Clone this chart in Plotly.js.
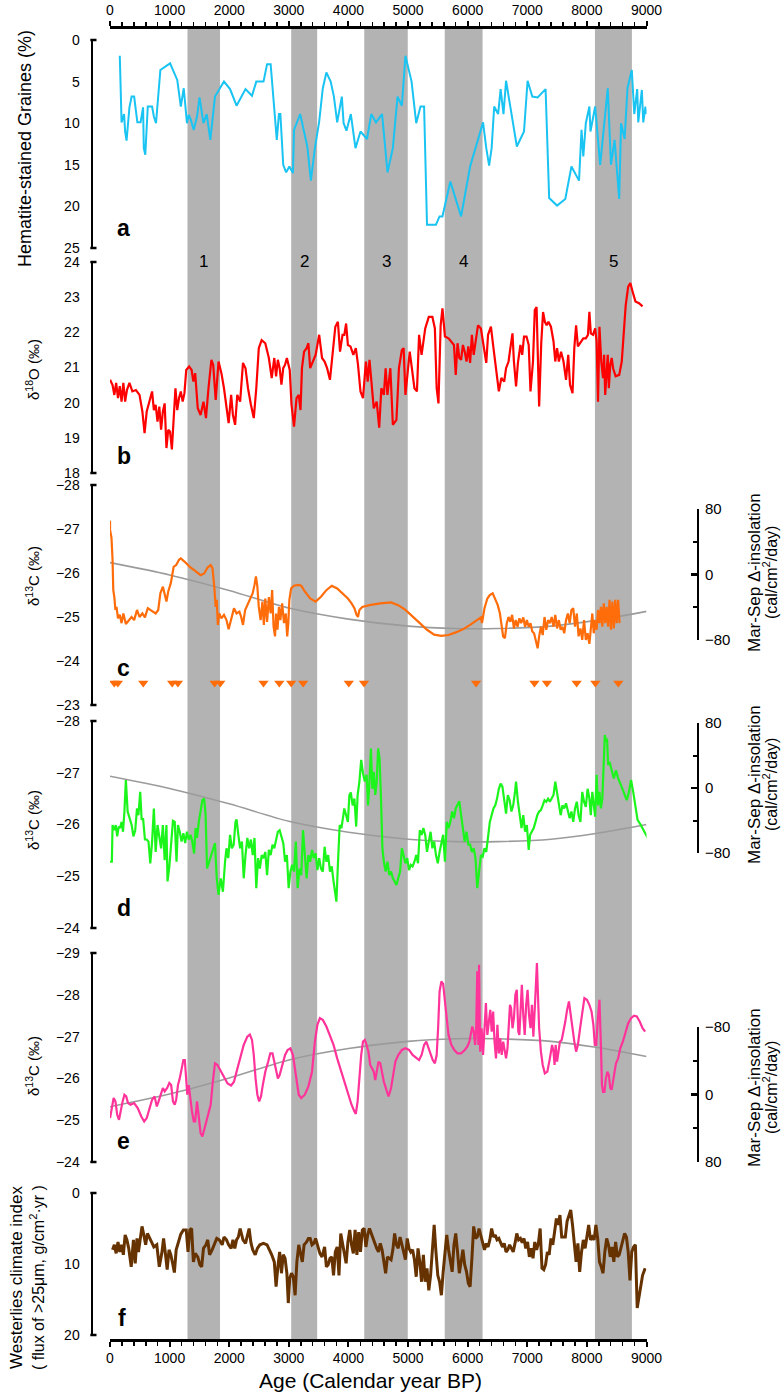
<!DOCTYPE html>
<html><head><meta charset="utf-8">
<script src="https://cdn.plot.ly/plotly-3.0.1.min.js"></script>
<style>html,body{margin:0;padding:0;background:#fff}#chart{width:781px;height:1393px}</style>
</head><body><div id="chart"></div>
<script>
// ---------------- DATA ----------------
const bandStart = [1300, 3040, 4265, 5615, 8135];
const bandEnd   = [1845, 3475, 4995, 6250, 8755];
const bandLabels = ['1','2','3','4','5'];

// a: Hematite-stained grains (%)  [age, value]
const hematite = [[164,1.9],[194,9.9],[236,8.9],[254,11.0],[278,12.1],[326,8.1],[363,6.8],[405,6.8],[459,9.9],[513,9.9],[555,8.1],[567,13.0],[592,13.8],[634,8.0],[706,8.0],[736,9.2],[772,10.0],[845,3.6],[1008,2.8],[1128,4.8],[1188,8.0],[1237,5.8],[1291,10.0],[1321,9.0],[1357,9.6],[1405,10.8],[1460,9.2],[1502,6.9],[1568,10.0],[1622,8.9],[1683,12.0],[1761,6.8],[1912,5.0],[2014,5.9],[2123,7.9],[2273,5.9],[2382,6.7],[2454,5.0],[2575,5.0],[2635,2.9],[2695,2.9],[2798,12.0],[2834,8.9],[2858,8.9],[2906,15.0],[2955,15.9],[3009,15.2],[3069,16.0],[3087,10.8],[3190,8.9],[3310,12.8],[3370,16.9],[3437,13.0],[3509,9.8],[3570,5.8],[3630,3.9],[3702,5.0],[3756,6.8],[3811,9.9],[3889,6.8],[3919,10.0],[3967,10.9],[4040,8.9],[4118,13.0],[4202,11.0],[4311,11.9],[4383,8.9],[4462,9.9],[4564,8.9],[4656,15.9],[4745,13.0],[4823,6.8],[4896,7.9],[4956,1.9],[5059,5.0],[5137,10.0],[5209,8.0],[5269,8.0],[5318,22.2],[5468,22.2],[5528,21.2],[5577,21.2],[5709,17.0],[5890,21.2],[6041,15.2],[6258,9.9],[6312,13.0],[6360,15.1],[6402,13.0],[6445,8.0],[6511,8.9],[6553,5.9],[6601,8.9],[6644,4.9],[6825,12.8],[6945,11.0],[7005,4.9],[7084,6.8],[7174,6.9],[7307,5.9],[7367,19.0],[7500,19.9],[7638,19.1],[7741,15.2],[7868,16.9],[7910,10.8],[7940,14.0],[7982,10.0],[8042,8.0],[8060,11.0],[8139,8.0],[8223,15.0],[8350,5.8],[8404,15.0],[8464,12.0],[8542,19.1],[8573,10.0],[8633,11.9],[8681,5.8],[8753,3.6],[8795,8.9],[8844,5.9],[8862,9.9],[8922,6.0],[8946,9.9],[8982,8.0],[9000,8.9]];

// b: d18O (permil)
const d18O = [[1,20.65],[43,20.5],[73,20.22],[103,20.56],[134,20.13],[164,20.47],[194,20.03],[224,20.56],[254,20.03],[284,20.36],[326,20.56],[375,20.32],[435,20.36],[495,20.22],[543,19.75],[580,19.13],[616,19.75],[676,20.13],[706,20.32],[736,19.79],[766,19.94],[797,19.46],[827,19.89],[857,19.23],[887,19.75],[917,19.98],[947,18.71],[977,19.23],[1007,19.18],[1038,18.67],[1068,19.75],[1098,20.41],[1128,19.79],[1158,20.13],[1188,20.32],[1219,20.03],[1249,20.27],[1279,20.93],[1327,21.03],[1369,20.93],[1399,20.6],[1429,20.84],[1472,19.84],[1520,19.65],[1568,20.03],[1610,19.56],[1652,20.41],[1701,21.22],[1731,21.08],[1773,20.08],[1821,21.17],[1869,20.84],[1912,20.41],[1954,19.84],[1990,19.42],[2032,20.22],[2062,19.65],[2099,19.37],[2135,20.22],[2183,20.03],[2231,21.13],[2273,20.98],[2315,20.41],[2364,19.94],[2412,19.56],[2454,20.41],[2496,21.55],[2544,21.78],[2605,21.69],[2665,21.27],[2713,20.7],[2756,21.27],[2786,20.75],[2816,21.22],[2846,20.98],[2876,20.51],[2906,20.98],[2937,21.08],[2967,21.27],[3015,20.93],[3045,19.94],[3087,19.32],[3129,20.13],[3166,20.22],[3196,19.79],[3220,20.98],[3256,21.45],[3298,21.55],[3328,21.69],[3358,20.98],[3400,21.17],[3449,21.36],[3509,21.93],[3557,21.27],[3600,21.17],[3642,20.98],[3690,20.65],[3738,21.45],[3780,22.16],[3823,22.3],[3859,21.45],[3901,21.93],[3931,21.93],[3961,22.25],[3991,21.64],[4034,21.6],[4082,21.36],[4124,21.55],[4160,21.08],[4202,20.32],[4244,20.13],[4293,21.17],[4323,20.6],[4353,21.22],[4395,20.41],[4425,19.84],[4474,20.03],[4516,19.29],[4552,20.41],[4594,20.22],[4624,20.98],[4654,20.22],[4703,20.98],[4745,19.37],[4805,19.51],[4847,20.98],[4896,21.5],[4926,21.55],[4956,20.22],[4998,21.08],[5028,21.45],[5064,20.98],[5107,20.41],[5149,20.32],[5185,21.93],[5227,21.36],[5288,22.11],[5348,22.44],[5408,22.44],[5450,22.11],[5480,20.41],[5510,19.98],[5547,22.2],[5577,22.68],[5619,21.88],[5679,21.83],[5740,21.69],[5770,21.64],[5800,20.79],[5830,21.69],[5860,21.27],[5890,21.22],[5920,21.64],[5950,21.45],[5981,21.17],[6011,21.6],[6041,21.13],[6071,21.93],[6101,21.36],[6131,21.78],[6173,22.2],[6222,22.11],[6270,21.55],[6312,21.13],[6342,21.93],[6390,22.16],[6433,21.55],[6493,20.79],[6523,20.32],[6565,20.7],[6613,20.6],[6644,20.98],[6686,21.17],[6716,21.55],[6752,21.97],[6776,21.17],[6812,20.46],[6843,21.13],[6885,21.64],[6915,21.36],[6945,21.88],[6987,21.88],[7024,21.64],[7054,20.32],[7096,21.17],[7126,22.63],[7156,22.72],[7174,21.55],[7199,19.89],[7234,21.69],[7265,22.58],[7295,22.3],[7325,22.2],[7355,22.3],[7397,22.16],[7440,21.74],[7470,21.17],[7500,21.55],[7530,21.17],[7566,21.45],[7608,21.17],[7650,20.65],[7687,21.36],[7717,20.51],[7759,20.27],[7789,21.55],[7819,22.2],[7849,21.6],[7898,21.74],[7940,21.83],[7982,21.83],[8018,21.93],[8042,22.58],[8066,21.97],[8103,21.93],[8139,22.11],[8163,21.74],[8187,20.03],[8211,22.16],[8241,21.17],[8271,20.7],[8289,21.36],[8307,20.22],[8332,20.79],[8350,21.36],[8368,20.41],[8392,21.08],[8416,21.27],[8440,20.98],[8482,20.75],[8542,20.79],[8585,21.17],[8621,22.02],[8651,22.77],[8693,23.3],[8729,23.4],[8765,23.17],[8814,22.88],[8874,22.83],[8934,22.74]];

// c: d13C (permil)
const d13C_c = [[0,-27.19],[1,-26.98],[25,-26.8],[43,-26.3],[55,-25.61],[73,-25.45],[91,-25.16],[109,-25.23],[134,-24.97],[164,-25.05],[194,-24.86],[224,-25.08],[266,-24.84],[314,-24.93],[362,-25.0],[405,-24.93],[453,-25.16],[495,-25.0],[543,-25.08],[586,-24.99],[634,-25.2],[676,-25.16],[724,-25.12],[766,-25.08],[809,-25.16],[845,-25.54],[887,-25.69],[917,-25.54],[947,-25.35],[977,-25.58],[1020,-25.77],[1068,-26.14],[1110,-26.18],[1158,-26.3],[1188,-26.33],[1249,-26.26],[1339,-26.14],[1429,-26.05],[1520,-25.95],[1580,-25.99],[1640,-26.13],[1689,-26.18],[1719,-26.11],[1749,-25.69],[1773,-25.23],[1791,-25.39],[1809,-24.82],[1833,-25.08],[1869,-24.97],[1912,-25.05],[1954,-24.93],[1990,-24.72],[2032,-24.97],[2080,-25.2],[2123,-25.08],[2171,-25.12],[2201,-25.0],[2231,-24.82],[2267,-25.16],[2303,-25.27],[2352,-25.42],[2394,-25.54],[2424,-25.73],[2448,-25.92],[2472,-25.69],[2496,-25.23],[2527,-24.93],[2557,-25.35],[2581,-24.82],[2605,-25.42],[2635,-24.89],[2665,-25.45],[2695,-25.08],[2720,-25.61],[2744,-24.78],[2768,-24.56],[2786,-25.08],[2810,-24.71],[2834,-25.23],[2858,-24.93],[2888,-25.31],[2919,-24.86],[2949,-25.08],[2973,-24.56],[2991,-24.86],[3009,-25.39],[3039,-25.65],[3087,-25.71],[3160,-25.73],[3208,-25.71],[3268,-25.58],[3358,-25.42],[3449,-25.35],[3539,-25.46],[3630,-25.61],[3720,-25.71],[3811,-25.65],[3901,-25.54],[3991,-25.42],[4052,-25.31],[4100,-25.2],[4136,-25.05],[4160,-25.0],[4184,-25.16],[4232,-25.23],[4353,-25.27],[4534,-25.31],[4715,-25.33],[4835,-25.27],[4956,-25.16],[5076,-25.0],[5197,-24.86],[5318,-24.71],[5438,-24.6],[5559,-24.57],[5679,-24.59],[5800,-24.65],[5920,-24.72],[6041,-24.82],[6162,-24.93],[6222,-24.99],[6240,-24.86],[6282,-25.2],[6330,-25.42],[6371,-25.5],[6420,-25.54],[6463,-25.42],[6505,-25.27],[6541,-25.08],[6571,-24.78],[6595,-24.56],[6625,-24.52],[6656,-24.86],[6686,-25.0],[6716,-24.89],[6746,-25.05],[6776,-24.74],[6806,-24.93],[6837,-24.78],[6867,-24.97],[6897,-24.86],[6933,-24.99],[6963,-24.78],[6993,-24.93],[7024,-24.78],[7054,-24.86],[7084,-24.67],[7114,-24.63],[7144,-24.48],[7174,-24.29],[7199,-24.56],[7229,-24.78],[7259,-24.59],[7289,-25.0],[7319,-24.71],[7349,-24.93],[7379,-24.86],[7410,-25.0],[7440,-24.78],[7470,-25.05],[7500,-24.74],[7530,-24.93],[7560,-24.71],[7590,-24.78],[7620,-24.63],[7650,-24.93],[7681,-25.08],[7711,-24.86],[7741,-25.16],[7771,-25.2],[7801,-24.78],[7831,-25.08],[7861,-24.56],[7892,-24.74],[7922,-24.48],[7952,-24.93],[7982,-24.48],[8012,-24.63],[8042,-24.39],[8066,-24.78],[8091,-25.08],[8115,-24.63],[8139,-24.93],[8163,-24.71],[8187,-25.16],[8211,-24.86],[8235,-25.23],[8259,-24.78],[8283,-25.31],[8307,-24.86],[8332,-25.23],[8356,-24.78],[8380,-25.39],[8404,-24.71],[8428,-25.35],[8452,-24.74],[8476,-25.39],[8500,-24.86],[8524,-25.39],[8548,-24.86]];

// c: dating points (triangles)
const datingAge = [72,132,558,1043,1139,1755,1850,2575,2840,3040,3240,4006,4262,6141,7120,7330,7828,8143,8527];
const datingLevel = [-23.5,-23.5,-23.5,-23.5,-23.5,-23.5,-23.5,-23.5,-23.5,-23.5,-23.5,-23.5,-23.5,-23.5,-23.5,-23.5,-23.5,-23.5,-23.5];

// d: d13C (permil)
const d13C_d = [[1,-25.28],[31,-25.28],[43,-25.99],[73,-25.89],[97,-25.99],[121,-25.77],[146,-25.96],[170,-25.93],[194,-26.05],[218,-25.86],[242,-26.25],[266,-26.86],[296,-26.25],[326,-26.12],[363,-25.99],[393,-25.77],[423,-25.89],[453,-26.31],[477,-26.18],[507,-26.63],[531,-26.09],[555,-26.12],[586,-25.71],[616,-25.71],[646,-25.67],[676,-25.25],[706,-25.67],[736,-26.31],[766,-25.47],[797,-25.99],[827,-25.8],[857,-25.54],[887,-25.99],[917,-25.31],[947,-25.99],[965,-24.9],[996,-25.19],[1026,-25.67],[1056,-26.07],[1086,-26.05],[1116,-25.28],[1140,-25.99],[1170,-25.86],[1200,-25.67],[1231,-25.83],[1261,-25.64],[1291,-25.86],[1321,-25.71],[1351,-25.8],[1381,-25.67],[1411,-25.44],[1436,-25.93],[1460,-25.74],[1490,-26.05],[1520,-26.25],[1550,-26.47],[1580,-26.5],[1604,-26.18],[1628,-25.15],[1665,-25.28],[1701,-25.41],[1737,-25.54],[1761,-25.64],[1791,-24.96],[1821,-24.64],[1858,-24.96],[1894,-24.7],[1930,-25.28],[1954,-25.54],[1984,-25.35],[2014,-25.8],[2044,-25.54],[2075,-25.61],[2105,-26.05],[2123,-26.1],[2153,-25.8],[2183,-25.54],[2213,-25.67],[2243,-24.96],[2273,-25.41],[2304,-25.74],[2334,-25.54],[2364,-25.71],[2394,-25.41],[2424,-25.74],[2454,-24.77],[2484,-25.35],[2514,-25.15],[2545,-25.41],[2575,-25.35],[2605,-25.47],[2635,-25.02],[2665,-25.51],[2695,-25.41],[2726,-25.61],[2756,-25.54],[2786,-25.71],[2816,-25.86],[2846,-25.89],[2876,-25.74],[2907,-25.64],[2937,-25.28],[2967,-25.41],[2997,-24.77],[3027,-25.09],[3057,-25.22],[3087,-25.09],[3117,-25.67],[3148,-24.77],[3178,-25.15],[3208,-25.02],[3238,-25.89],[3268,-25.41],[3298,-24.96],[3328,-25.41],[3358,-25.28],[3389,-25.51],[3419,-25.35],[3449,-25.44],[3479,-25.12],[3509,-25.35],[3539,-25.15],[3570,-25.09],[3600,-25.57],[3630,-25.28],[3660,-25.41],[3690,-25.09],[3720,-25.19],[3750,-24.9],[3780,-24.64],[3798,-24.51],[3823,-25.22],[3853,-25.99],[3883,-25.93],[3907,-26.18],[3931,-26.31],[3961,-26.18],[3991,-26.05],[4016,-26.57],[4040,-26.62],[4070,-26.37],[4100,-26.5],[4130,-25.96],[4154,-26.57],[4184,-26.83],[4214,-27.25],[4244,-26.99],[4275,-26.83],[4305,-26.96],[4329,-26.37],[4353,-26.83],[4377,-27.47],[4401,-26.69],[4425,-27.02],[4450,-26.57],[4474,-26.83],[4498,-27.47],[4522,-27.28],[4546,-26.5],[4570,-25.54],[4594,-25.28],[4624,-25.09],[4655,-25.28],[4685,-25.02],[4715,-25.09],[4745,-24.96],[4775,-24.9],[4805,-24.83],[4835,-24.96],[4866,-25.09],[4896,-25.54],[4926,-25.41],[4956,-25.25],[4986,-25.35],[5016,-25.12],[5046,-25.22],[5076,-25.19],[5107,-25.28],[5137,-25.41],[5167,-25.25],[5197,-25.89],[5227,-25.8],[5257,-25.93],[5288,-25.8],[5318,-25.47],[5348,-25.67],[5378,-25.86],[5408,-25.54],[5438,-25.67],[5468,-25.41],[5499,-25.25],[5529,-25.47],[5559,-25.67],[5589,-25.8],[5619,-25.28],[5649,-26.05],[5679,-25.93],[5709,-26.05],[5740,-26.25],[5770,-26.12],[5800,-26.31],[5830,-26.37],[5860,-26.45],[5890,-26.18],[5920,-25.93],[5950,-25.67],[5981,-25.86],[6011,-25.61],[6041,-25.61],[6071,-25.47],[6101,-25.54],[6131,-25.35],[6161,-24.77],[6191,-25.15],[6222,-25.41],[6252,-25.38],[6282,-25.54],[6312,-25.47],[6342,-25.74],[6372,-26.05],[6402,-26.18],[6433,-26.31],[6463,-26.37],[6493,-26.5],[6523,-26.69],[6553,-26.79],[6583,-26.73],[6613,-26.44],[6644,-26.21],[6674,-26.57],[6704,-26.47],[6734,-26.25],[6764,-26.37],[6794,-26.63],[6812,-26.83],[6843,-26.44],[6873,-26.18],[6903,-25.93],[6933,-26.18],[6963,-25.86],[6993,-25.99],[7024,-25.51],[7048,-25.8],[7078,-25.86],[7108,-25.93],[7138,-26.05],[7168,-26.18],[7198,-26.25],[7229,-26.28],[7259,-26.37],[7289,-26.47],[7319,-26.44],[7349,-26.5],[7379,-26.44],[7409,-26.5],[7440,-26.57],[7470,-26.83],[7500,-26.63],[7530,-26.37],[7560,-26.18],[7590,-26.37],[7620,-26.31],[7650,-26.41],[7681,-26.25],[7711,-26.12],[7741,-26.25],[7771,-26.05],[7801,-26.31],[7831,-26.44],[7861,-26.18],[7892,-26.05],[7922,-26.63],[7952,-26.44],[7982,-26.34],[8012,-26.69],[8042,-26.5],[8066,-26.18],[8091,-26.63],[8115,-26.44],[8139,-26.15],[8163,-26.96],[8187,-26.37],[8211,-26.63],[8235,-26.31],[8259,-26.5],[8283,-27.34],[8301,-27.73],[8320,-27.6],[8338,-27.66],[8356,-27.15],[8380,-27.21],[8416,-27.05],[8452,-26.89],[8488,-27.05],[8524,-26.89],[8572,-26.76],[8621,-26.63],[8669,-26.47],[8705,-26.63],[8741,-26.86],[8777,-26.63],[8814,-26.31],[8850,-26.09],[8904,-25.99],[8964,-25.86],[9025,-25.73],[9085,-25.72]];

// e: d13C (permil)
const d13C_e = [[1,-25.05],[31,-25.29],[61,-25.53],[91,-25.45],[121,-25.13],[151,-25.01],[182,-25.29],[212,-25.45],[242,-25.61],[272,-25.57],[302,-25.41],[345,-25.37],[405,-25.41],[465,-25.29],[525,-25.09],[574,-24.97],[616,-25.05],[664,-25.29],[706,-25.49],[748,-25.57],[785,-25.33],[815,-25.45],[857,-25.65],[887,-25.77],[917,-25.69],[959,-25.77],[995,-25.89],[1026,-25.84],[1056,-25.45],[1086,-25.37],[1110,-25.49],[1140,-25.84],[1170,-26.0],[1200,-26.24],[1231,-26.44],[1255,-26.44],[1279,-25.84],[1297,-25.61],[1321,-25.84],[1345,-25.53],[1375,-25.21],[1405,-24.97],[1429,-24.97],[1460,-25.45],[1490,-25.13],[1520,-24.69],[1550,-24.61],[1592,-24.85],[1640,-25.13],[1689,-25.37],[1725,-25.92],[1761,-26.36],[1803,-26.32],[1851,-26.2],[1912,-26.04],[1972,-25.88],[2032,-25.83],[2080,-25.92],[2123,-26.16],[2183,-26.48],[2243,-26.8],[2304,-27.0],[2346,-27.05],[2382,-26.92],[2412,-26.56],[2442,-26.0],[2472,-25.61],[2502,-25.45],[2533,-25.57],[2563,-25.84],[2605,-26.16],[2653,-26.4],[2689,-26.6],[2726,-26.6],[2756,-26.4],[2786,-26.12],[2816,-26.0],[2846,-26.08],[2894,-26.32],[2937,-26.56],[2979,-26.68],[3027,-26.72],[3069,-26.56],[3105,-26.16],[3135,-25.84],[3166,-25.61],[3208,-25.53],[3268,-25.61],[3328,-25.81],[3389,-26.16],[3437,-26.88],[3479,-27.28],[3521,-27.44],[3570,-27.4],[3630,-27.24],[3690,-27.04],[3750,-26.8],[3811,-26.48],[3871,-26.2],[3931,-25.92],[3991,-25.65],[4052,-25.37],[4100,-25.21],[4124,-25.15],[4154,-25.45],[4184,-26.08],[4214,-26.56],[4244,-26.88],[4275,-26.92],[4305,-26.8],[4335,-26.64],[4365,-26.32],[4395,-26.24],[4425,-26.16],[4450,-25.96],[4474,-26.16],[4504,-26.4],[4534,-26.36],[4564,-26.16],[4594,-25.92],[4636,-25.73],[4673,-25.57],[4715,-25.77],[4745,-26.08],[4787,-26.4],[4835,-26.56],[4896,-26.68],[4956,-26.72],[5016,-26.68],[5076,-26.56],[5137,-26.48],[5185,-26.44],[5227,-26.56],[5269,-26.8],[5306,-26.88],[5342,-26.72],[5378,-26.56],[5414,-26.44],[5450,-26.36],[5480,-26.56],[5504,-27.2],[5529,-28.08],[5559,-28.32],[5589,-28.26],[5619,-27.84],[5649,-27.36],[5679,-27.04],[5728,-26.8],[5776,-26.68],[5830,-26.6],[5890,-26.6],[5951,-26.68],[5993,-26.76],[6029,-26.88],[6053,-27.04],[6077,-27.24],[6101,-27.12],[6125,-26.8],[6143,-27.2],[6161,-28.56],[6179,-26.8],[6191,-28.72],[6210,-26.64],[6234,-27.2],[6258,-26.56],[6282,-27.28],[6306,-27.8],[6330,-27.04],[6354,-27.4],[6379,-27.64],[6403,-27.12],[6427,-27.6],[6451,-26.88],[6475,-26.48],[6499,-27.28],[6523,-26.6],[6547,-26.96],[6571,-26.56],[6596,-26.88],[6620,-26.72],[6644,-26.48],[6668,-26.72],[6692,-27.2],[6710,-27.76],[6728,-27.68],[6752,-27.2],[6776,-27.44],[6800,-28.0],[6824,-28.12],[6849,-27.12],[6867,-27.04],[6885,-27.76],[6909,-28.24],[6933,-27.52],[6957,-27.04],[6981,-27.76],[7005,-28.12],[7029,-27.52],[7054,-27.2],[7078,-27.76],[7102,-27.0],[7126,-27.68],[7144,-28.4],[7162,-28.76],[7181,-27.92],[7199,-27.2],[7229,-26.64],[7259,-26.32],[7295,-26.12],[7337,-26.16],[7379,-26.48],[7416,-26.8],[7440,-26.64],[7458,-26.32],[7476,-26.8],[7500,-26.4],[7524,-26.64],[7548,-26.88],[7578,-26.92],[7608,-27.12],[7638,-27.36],[7668,-27.64],[7699,-27.84],[7729,-27.52],[7759,-27.12],[7789,-26.88],[7819,-26.64],[7849,-26.8],[7886,-27.2],[7922,-27.6],[7958,-27.92],[8000,-27.88],[8042,-27.76],[8078,-27.6],[8109,-27.28],[8133,-26.8],[8157,-26.8],[8181,-27.36],[8211,-27.88],[8235,-26.8],[8253,-25.84],[8271,-25.68],[8295,-25.68],[8319,-26.0],[8344,-26.16],[8368,-26.08],[8392,-25.77],[8416,-25.73],[8440,-25.92],[8464,-26.16],[8488,-26.36],[8524,-26.48],[8560,-26.72],[8603,-26.88],[8645,-27.12],[8693,-27.32],[8741,-27.44],[8790,-27.5],[8838,-27.48],[8886,-27.36],[8934,-27.2],[8977,-27.12]];

// f: Westerlies climate index (flux of >25um)
const westerlies = [[43,8.0],[73,7.3],[103,8.5],[134,6.9],[164,8.3],[194,7.3],[224,8.7],[254,5.9],[284,6.6],[314,7.8],[356,10.4],[393,6.6],[423,9.9],[453,6.4],[477,8.3],[507,6.2],[537,4.7],[567,5.9],[598,7.3],[628,5.7],[664,6.4],[706,7.1],[736,7.6],[785,7.3],[827,10.4],[869,8.5],[899,6.4],[929,8.5],[959,10.8],[990,8.0],[1020,8.7],[1050,9.9],[1080,11.2],[1110,8.0],[1146,7.1],[1188,5.8],[1231,5.2],[1279,5.2],[1309,8.3],[1339,5.2],[1369,5.0],[1399,9.7],[1429,8.5],[1472,9.0],[1508,10.1],[1538,10.4],[1568,7.8],[1610,7.3],[1640,6.6],[1671,8.7],[1713,8.0],[1749,7.3],[1791,6.4],[1833,6.6],[1882,7.3],[1912,6.2],[1954,6.6],[1990,7.3],[2032,7.8],[2062,6.6],[2093,7.8],[2123,6.6],[2153,6.2],[2183,5.0],[2231,6.6],[2273,7.1],[2304,6.2],[2334,5.0],[2364,7.0],[2394,8.0],[2436,8.7],[2472,7.8],[2514,7.3],[2575,7.1],[2635,7.3],[2677,8.0],[2713,8.7],[2756,9.7],[2786,13.2],[2816,10.4],[2846,8.3],[2876,11.3],[2907,8.7],[2937,9.2],[2967,11.3],[2991,15.5],[3015,12.0],[3045,11.3],[3075,11.8],[3105,14.4],[3135,9.7],[3166,7.3],[3196,8.3],[3226,9.7],[3256,7.3],[3298,6.9],[3328,6.4],[3358,6.4],[3389,7.3],[3419,7.1],[3449,6.4],[3479,7.3],[3521,8.5],[3557,9.0],[3600,7.6],[3630,10.4],[3660,10.1],[3690,9.2],[3720,9.0],[3750,11.6],[3780,8.3],[3811,7.6],[3841,11.6],[3871,5.7],[3901,7.1],[3931,8.3],[3961,9.9],[3991,6.9],[4022,5.2],[4052,7.3],[4082,8.5],[4112,5.2],[4142,8.7],[4172,5.5],[4202,8.3],[4233,5.2],[4263,5.0],[4293,7.6],[4323,5.9],[4353,5.0],[4383,5.7],[4413,6.4],[4444,7.3],[4474,7.8],[4504,8.3],[4534,7.1],[4564,8.0],[4594,9.4],[4624,11.3],[4654,9.0],[4685,9.2],[4715,9.4],[4745,8.0],[4775,5.7],[4805,7.3],[4835,7.8],[4866,6.2],[4896,7.1],[4926,8.3],[4956,9.4],[4986,6.4],[5016,7.8],[5046,8.3],[5076,8.0],[5107,9.4],[5137,11.8],[5167,7.8],[5197,9.7],[5227,12.5],[5257,8.7],[5288,12.5],[5318,10.6],[5348,13.7],[5378,11.6],[5408,8.0],[5438,4.5],[5468,8.3],[5499,11.6],[5529,12.5],[5559,14.4],[5589,11.1],[5619,8.3],[5649,5.9],[5679,8.0],[5709,9.7],[5740,11.1],[5770,7.3],[5800,5.7],[5830,8.3],[5860,11.3],[5890,9.7],[5920,8.0],[5950,10.1],[5981,11.1],[6011,12.7],[6041,13.2],[6071,9.2],[6101,4.7],[6131,6.4],[6161,6.2],[6191,5.0],[6222,5.9],[6252,7.1],[6282,8.0],[6312,7.1],[6342,7.6],[6372,6.6],[6402,5.0],[6433,6.2],[6463,5.9],[6493,6.6],[6523,6.4],[6553,7.0],[6583,7.6],[6613,7.1],[6644,8.3],[6674,8.0],[6704,7.3],[6734,7.8],[6764,8.3],[6794,7.1],[6824,5.7],[6855,6.6],[6885,6.4],[6915,7.0],[6945,6.4],[6975,7.8],[7005,6.9],[7035,9.0],[7066,7.8],[7096,9.2],[7126,6.9],[7156,8.0],[7186,7.1],[7216,5.0],[7247,10.6],[7277,10.8],[7307,10.1],[7337,8.3],[7367,8.7],[7397,6.4],[7428,7.3],[7458,5.5],[7488,3.6],[7518,4.5],[7548,3.1],[7578,6.2],[7608,6.2],[7638,6.2],[7668,4.0],[7699,3.1],[7729,2.4],[7759,4.5],[7789,7.3],[7819,9.7],[7849,7.1],[7879,11.1],[7910,8.3],[7940,6.6],[7970,7.8],[8000,6.4],[8030,4.5],[8060,6.6],[8091,6.2],[8121,6.6],[8151,4.5],[8181,6.4],[8211,9.7],[8241,10.4],[8271,11.3],[8301,8.3],[8332,6.4],[8362,7.3],[8392,9.0],[8422,7.6],[8452,9.7],[8482,6.9],[8512,9.0],[8542,8.7],[8572,7.6],[8603,6.6],[8633,5.7],[8663,6.2],[8693,8.3],[8723,12.3],[8753,8.3],[8783,7.6],[8814,7.3],[8844,16.2],[8874,14.8],[8904,13.0],[8934,11.6],[8977,10.6]];

// Mar-Sep delta-insolation (cal/cm2/day)
const insolation = [[0,14.5],[1000,-0.5],[2000,-19.5],[3000,-41],[4000,-54.5],[5000,-63],[5800,-66],[6500,-66],[7400,-63],[8150,-56],[9000,-45]];

// ---------------- LAYOUT HELPERS ----------------
const W = 781, H = 1393;
const px = v => v / W;
const py = v => 1 - v / H;
const NARROW = "'Liberation Sans Narrow','Arial Narrow','Liberation Sans',Arial,sans-serif";
const ARIAL = "'Liberation Sans',Arial,sans-serif";
const LEFT_X = 91.5, RIGHT_X = 697.5;
const xs = a => a.map(p => p[0]);
const ys = a => a.map(p => p[1]);

// panel extents in px: [top, bottom]
const P = {
  a: [40, 248], b: [262, 473], c: [485, 705], d: [721, 928], e: [953, 1162], f: [1193, 1335],
  ci: [509, 640], di: [723, 853], ei: [1027, 1162]
};

function leftAxis(ext, range, dtick) {
  return {domain: [py(ext[1]), py(ext[0])], range: range, anchor: 'free', position: px(LEFT_X),
    showline: true, linewidth: 2.5, linecolor: '#000', ticks: '', showgrid: false, zeroline: false,
    tick0: 0, dtick: dtick, tickfont: {family: NARROW, size: 14, color: '#000'}, ticklabelstandoff: 8};
}
function rightAxis(ext, range) {
  return {domain: [py(ext[1]), py(ext[0])], range: range, anchor: 'free', position: px(RIGHT_X), side: 'right',
    showline: true, linewidth: 2.5, linecolor: '#000', ticks: 'inside', ticklen: 6, tickwidth: 2.5, tickcolor: '#000',
    tickvals: [-80, 0, 80], minor: {tickvals: [-40, 40], ticks: 'inside', ticklen: 4, tickwidth: 2, tickcolor: '#000'},
    showgrid: false, zeroline: false, tickfont: {family: NARROW, size: 15, color: '#000'}, ticklabelstandoff: 3};
}

const xBase = {domain: [px(110), px(646.5)], range: [0, 9000], anchor: 'free', showline: true, linewidth: 2.5,
  linecolor: '#000', ticks: 'outside', ticklen: 5, tickwidth: 2, tickcolor: '#000', tick0: 0, dtick: 1000,
  minor: {dtick: 200, ticks: 'outside', ticklen: 4, tickwidth: 1.5, tickcolor: '#000'},
  showgrid: false, zeroline: false, tickfont: {family: NARROW, size: 14, color: '#000'}};

const layout = {
  width: W, height: H, margin: {l: 0, r: 0, t: 0, b: 0}, showlegend: false,
  paper_bgcolor: '#fff', plot_bgcolor: 'rgba(0,0,0,0)',
  xaxis: Object.assign({}, xBase, {position: py(1340)}),
  xaxis2: Object.assign({}, xBase, {overlaying: 'x', side: 'top', position: py(27)}),
  yaxis: leftAxis(P.a, [25, 0], 5),
  yaxis2: leftAxis(P.b, [18, 24], 1),
  yaxis3: rightAxis(P.ci, [-80, 80]),
  yaxis4: leftAxis(P.c, [-23, -28], 1),
  yaxis5: rightAxis(P.di, [-80, 80]),
  yaxis6: leftAxis(P.d, [-24, -28], 1),
  yaxis7: rightAxis(P.ei, [80, -80]),
  yaxis8: leftAxis(P.e, [-24, -29], 1),
  yaxis9: leftAxis(P.f, [20, 0], 10),
  shapes: [], annotations: []
};

// shaded intervals
bandStart.forEach((s, i) => {
  layout.shapes.push({type: 'rect', xref: 'x', yref: 'paper', x0: s, x1: bandEnd[i], y0: py(1340), y1: py(27),
    fillcolor: '#b3b3b3', line: {width: 0}, layer: 'below'});
  layout.annotations.push({xref: 'x', yref: 'paper', x: (s + bandEnd[i]) / 2, y: py(261), text: bandLabels[i],
    showarrow: false, xanchor: 'center', yanchor: 'middle', font: {family: ARIAL, size: 17, color: '#000'}});
});
// end caps of the left spines
['a','b','c','d','e','f'].forEach(k => {
  P[k].forEach(yv => layout.shapes.push({type: 'line', xref: 'paper', yref: 'paper',
    x0: px(LEFT_X - 1.2), x1: px(LEFT_X + 5), y0: py(yv), y1: py(yv), line: {color: '#000', width: 2.5}}));
});

// panel letters
[['a',124,228],['b',124,456],['c',124,668],['d',124,908],['e',124,1141],['f',122,1318]].forEach(t => {
  layout.annotations.push({xref: 'paper', yref: 'paper', x: px(t[1]), y: py(t[2]), text: '<b>' + t[0] + '</b>',
    showarrow: false, xanchor: 'center', yanchor: 'middle', font: {family: ARIAL, size: 23, color: '#000'}});
});

function vtitle(x, y, text, size) {
  layout.annotations.push({xref: 'paper', yref: 'paper', x: px(x), y: py(y), text: text, textangle: -90,
    showarrow: false, xanchor: 'center', yanchor: 'middle', font: {family: ARIAL, size: size, color: '#000'}});
}
vtitle(25, 149, 'Hematite-stained Graines (%)', 18);
vtitle(32, 370, 'δ<sup>18</sup>O (‰)', 15);
vtitle(32, 576, 'δ<sup>13</sup>C (‰)', 15);
vtitle(32, 820, 'δ<sup>13</sup>C (‰)', 15);
vtitle(32, 1066, 'δ<sup>13</sup>C (‰)', 15);
vtitle(16, 1278, 'Westerlies climate index', 17);
vtitle(37, 1278, '( flux of >25μm, g/cm<sup>2</sup>·yr )', 16);
[573, 785, 1088].forEach(yc => {
  vtitle(754, yc, 'Mar-Sep Δ-insolation', 17);
  vtitle(770, yc, '(cal/cm<sup>2</sup>/day)', 16);
});
layout.annotations.push({xref: 'paper', yref: 'paper', x: px(370), y: py(1380), text: 'Age (Calendar year BP)',
  showarrow: false, xanchor: 'center', yanchor: 'middle', font: {family: NARROW, size: 21, color: '#000'}});

// ---------------- TRACES ----------------
const line = (data, ya, color, width) => ({type: 'scatter', mode: 'lines', x: xs(data), y: ys(data),
  xaxis: 'x', yaxis: ya, line: {color: color, width: width}, hoverinfo: 'skip'});
const insol = ya => ({type: 'scatter', mode: 'lines', x: xs(insolation), y: ys(insolation), xaxis: 'x', yaxis: ya,
  line: {color: '#9b9b9b', width: 1.6, shape: 'spline', smoothing: 0.8}, hoverinfo: 'skip'});

const traces = [
  line(hematite, 'y', '#19c3f2', 2),
  line(d18O, 'y2', '#ff0000', 2.2),
  insol('y3'),
  line(d13C_c, 'y4', '#ff6c0a', 2.2),
  {type: 'scatter', mode: 'markers', x: datingAge, y: datingLevel, xaxis: 'x', yaxis: 'y4',
    marker: {symbol: 'triangle-down', size: 9, color: '#ff6c0a'}, hoverinfo: 'skip'},
  insol('y5'),
  line(d13C_d, 'y6', '#1cf51c', 2.2),
  insol('y7'),
  line(d13C_e, 'y8', '#ff3399', 2.2),
  line(westerlies, 'y9', '#663300', 3),
  {type: 'scatter', mode: 'lines', x: [0, 9000], y: [null, null], xaxis: 'x2', yaxis: 'y', hoverinfo: 'skip', showlegend: false}
];

Plotly.newPlot('chart', traces, layout, {staticPlot: true});
</script>
</body></html>
